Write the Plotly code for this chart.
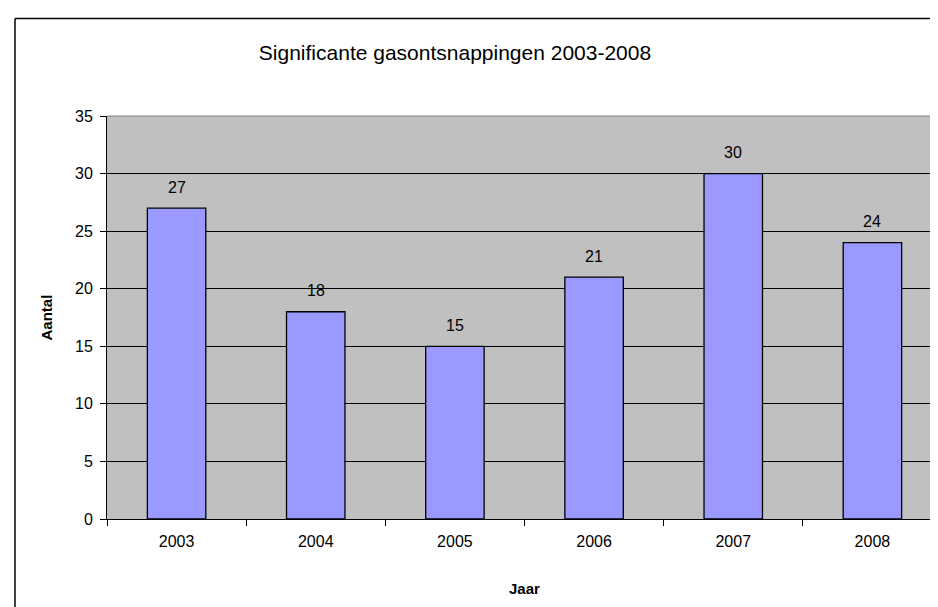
import plotly.graph_objects as go

years = ["2003", "2004", "2005", "2006", "2007", "2008"]
counts = [27, 18, 15, 21, 30, 24]
y_ticks = [0, 5, 10, 15, 20, 25, 30, 35]

W, H = 938, 607
L, R, T, B = 99, 4, 108, 96
pw, ph = W - L - R, H - T - B

def px_x(px):
    return (px - L) / pw

def px_y(py):
    return (H - B - py) / ph

FONT = "Arial, Liberation Sans, sans-serif"

fig = go.Figure()
fig.add_trace(go.Bar(
    x=years, y=counts,
    marker=dict(color="#9999FF", line=dict(color="black", width=1.3)),
    hoverinfo="x+y",
))

annotations = []
for i, v in enumerate(counts):
    annotations.append(dict(x=i, y=v, xref="x", yref="y", text=str(v), showarrow=False,
                            yshift=21, yanchor="middle",
                            font=dict(family=FONT, size=16, color="black")))
annotations.append(dict(x=px_x(38), y=0.5, xref="paper", yref="paper", text="<b>Aantal</b>",
                        textangle=-90, showarrow=False, xanchor="center", yanchor="middle",
                        font=dict(family=FONT, size=15, color="black")))
annotations.append(dict(x=0.5, y=px_y(580), xref="paper", yref="paper", text="<b>Jaar</b>",
                        showarrow=False, xanchor="center", yanchor="middle",
                        font=dict(family=FONT, size=15, color="black")))

shapes = [
    dict(type="line", xref="paper", yref="paper", x0=px_x(7), x1=px_x(945), y0=px_y(10.5), y1=px_y(10.5),
         line=dict(color="black", width=1.5)),
    dict(type="line", xref="paper", yref="paper", x0=px_x(7), x1=px_x(7), y0=px_y(10.5), y1=px_y(615),
         line=dict(color="black", width=1.5)),
    dict(type="line", xref="paper", yref="paper", x0=0, x1=1, y0=1, y1=1,
         line=dict(color="#808080", width=1)),
    dict(type="line", xref="paper", yref="paper", x0=1, x1=1, y0=0, y1=1,
         line=dict(color="#808080", width=1)),
]

fig.update_layout(
    width=W, height=H,
    margin=dict(l=L, r=R, t=T, b=B),
    paper_bgcolor="white",
    plot_bgcolor="#C0C0C0",
    bargap=0.58,
    showlegend=False,
    title=dict(text="Significante gasontsnappingen 2003-2008",
               x=px_x(447), xref="paper", xanchor="center",
               y=1 - 45 / H, yref="container", yanchor="middle",
               font=dict(family=FONT, size=21, color="black")),
    annotations=annotations,
    shapes=shapes,
    font=dict(family=FONT, color="black"),
)

fig.update_xaxes(
    type="category", range=[-0.5, len(years) - 0.5],
    showline=True, linecolor="black", linewidth=1,
    ticks="outside", ticklen=6, tickcolor="black", tickson="boundaries",
    tickfont=dict(family=FONT, size=16, color="black"),
    tickangle=0,
    ticklabelstandoff=8,
    showgrid=False, zeroline=False, fixedrange=True,
)
fig.update_yaxes(
    range=[0, 35], tickvals=y_ticks, ticktext=[str(v) for v in y_ticks],
    showline=True, linecolor="black", linewidth=1,
    ticks="outside", ticklen=6, tickcolor="black",
    tickfont=dict(family=FONT, size=16, color="black"),
    ticklabelstandoff=4,
    showgrid=True, gridcolor="black", gridwidth=1,
    zeroline=False, fixedrange=True,
)

fig.write_html("out.html")
